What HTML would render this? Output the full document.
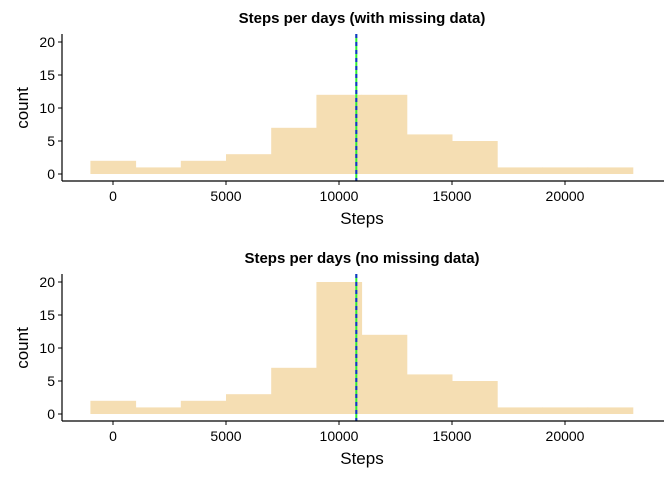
<!DOCTYPE html>
<html><head><meta charset="utf-8"><style>
body{margin:0;background:#fff;}
svg text{font-family:"Liberation Sans",sans-serif;}
</style></head><body>
<svg id="c" width="672" height="480" xmlns="http://www.w3.org/2000/svg"></svg>
<script>
const binStarts=[-1000,1000,3000,5000,7000,9000,11000,13000,15000,17000,19000,21000];
const countsMissing=[2,1,2,3,7,12,12,6,5,1,1,1];
const countsFilled=[2,1,2,3,7,20,12,6,5,1,1,1];
const meanMissing=10766;
const meanFilled=10766;
const xTicks=[0,5000,10000,15000,20000];
const yTicks=[0,5,10,15,20];
const binWidth=2000;
const NS="http://www.w3.org/2000/svg";
const svg=document.getElementById('c');
const X=v=>113+v*0.0226;
function el(t,a,p){const e=document.createElementNS(NS,t);for(const k in a)e.setAttribute(k,a[k]);(p||svg).appendChild(e);return e;}
function panel(top,title,counts,mean,key){
  const g=el('g',{});
  
  
  const Y0=top+140, Y=c=>Y0-c*6.6;
  counts.forEach((c,i)=>{const r=el('rect',{x:X(binStarts[i]),y:Y(c),width:X(binStarts[i]+binWidth)-X(binStarts[i])+0.5,height:Y(0)-Y(c),fill:'#f5deb3'},g);
    });
  const ml=el('line',{x1:X(mean),x2:X(mean),y1:top,y2:Y0+7,stroke:'#33ee33','stroke-width':2},g);
  
  const md=el('line',{x1:X(mean),x2:X(mean),y1:top,y2:Y0+7,stroke:'#1133cc','stroke-width':2,'stroke-dasharray':'4,4'},g);
  
  const t=el('text',{x:362,y:top-11,'text-anchor':'middle','font-size':'15','font-weight':'bold'},g);t.textContent=title;
  
  const ya=el('line',{x1:62,x2:62,y1:top,y2:Y0+7,stroke:'#000','stroke-width':1.2},g);
  
  const xa=el('line',{x1:62,x2:664,y1:Y0+7,y2:Y0+7,stroke:'#000','stroke-width':1.2},g);
  
  yTicks.forEach(v=>{el('line',{x1:58,x2:62,y1:Y(v),y2:Y(v),stroke:'#000'},g);
    const tx=el('text',{x:55,y:Y(v)+5,'text-anchor':'end','font-size':'14'},g);tx.textContent=v;
    });
  xTicks.forEach(v=>{el('line',{x1:X(v),x2:X(v),y1:Y0+7,y2:Y0+11,stroke:'#000'},g);
    const tx=el('text',{x:X(v),y:Y0+27,'text-anchor':'middle','font-size':'14'},g);tx.textContent=v;
    });
  const xt=el('text',{x:362,y:Y0+50,'text-anchor':'middle','font-size':'17'},g);xt.textContent='Steps';
  
  const yt=el('text',{x:0,y:0,'text-anchor':'middle','font-size':'17',transform:`translate(28,${Y(10)}) rotate(-90)`},g);yt.textContent='count';
  
}
panel(34,'Steps per days (with missing data)',countsMissing,meanMissing,'top');
panel(274,'Steps per days (no missing data)',countsFilled,meanFilled,'bottom');
</script>
</body></html>
